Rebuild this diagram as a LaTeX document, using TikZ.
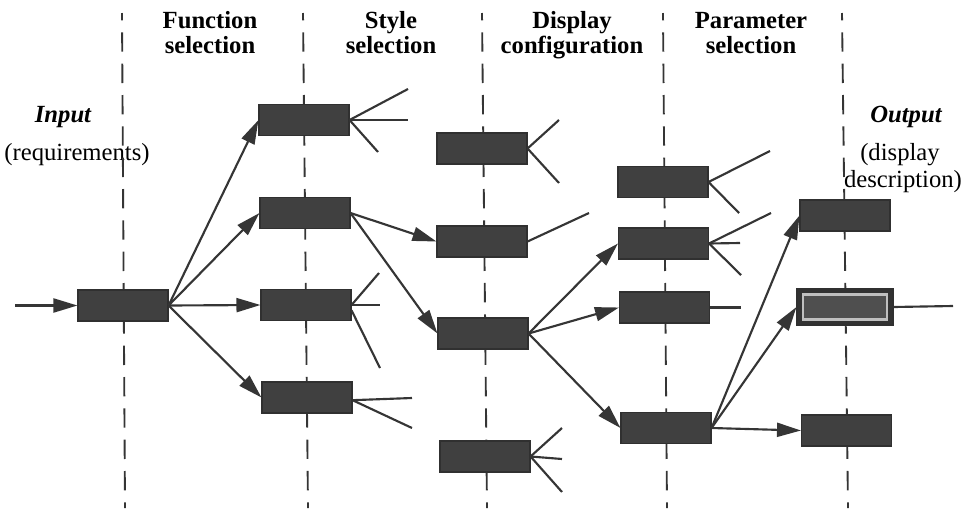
\documentclass[tikz,border=0pt]{standalone}
\usepackage{fontspec}
\setmainfont{Liberation Serif}
\usetikzlibrary{arrows.meta}
\definecolor{ink}{HTML}{353535}
\definecolor{boxfill}{HTML}{404040}
\begin{document}
\begin{tikzpicture}[x=0.75pt,y=-0.75pt,
  stagebox/.style={rectangle, draw=ink!90!black, line width=0.8pt, fill=boxfill,
    minimum width=67.5pt, minimum height=23.25pt, inner sep=0pt},
  divider/.style={draw=ink, line width=1.4pt, dash pattern=on 14.5pt off 9pt, dash phase=9pt},
  link/.style={draw=ink, line width=1.6pt, -{Triangle[length=18pt,width=10.5pt]}},
  stub/.style={draw=ink, line width=1.6pt},
  heading/.style={anchor=base, inner sep=0pt, font=\fontsize{18.5}{19}\selectfont\bfseries},
  label/.style={anchor=base, inner sep=0pt, font=\fontsize{18.5}{19}\selectfont}]
\useasboundingbox (0,0) rectangle (978,508);

% column headings
\node[heading] (h1a) at (210,28) {Function};
\node[heading] (h1b) at (210,53) {selection};
\node[heading] (h2a) at (391,28) {Style};
\node[heading] (h2b) at (391,53) {selection};
\node[heading] (h3a) at (572,28) {Display};
\node[heading] (h3b) at (572,53) {configuration};
\node[heading] (h4a) at (751,28) {Parameter};
\node[heading] (h4b) at (751,53) {selection};

% input and output labels
\node[label, font=\fontsize{18.5}{19}\selectfont\bfseries\itshape] (inl) at (63,122) {Input};
\node[label] (inr) at (77,160) {(requirements)};
\node[label, font=\fontsize{18.5}{19}\selectfont\bfseries\itshape] (outl) at (906,122) {Output};
\node[label] (outa) at (900,160) {(display};
\node[label] (outb) at (903,187) {description)};

% stage dividers
\draw[divider] (122,13) -- (125,508);
\draw[divider] (303,13) -- (308,508);
\draw[divider] (482,13) -- (487,508);
\draw[divider] (663,13) -- (667,508);
\draw[divider] (842,13) -- (848,508);

% stage boxes
\node[stagebox] (A) at (123,305.5) {};
\node[stagebox] (B1) at (304,120) {};
\node[stagebox] (B2) at (305,213) {};
\node[stagebox] (B3) at (306,305) {};
\node[stagebox] (B4) at (307,397.5) {};
\node[stagebox] (C1) at (482,148.5) {};
\node[stagebox] (C2) at (482,241.5) {};
\node[stagebox] (C3) at (483,333.5) {};
\node[stagebox] (C4) at (485,456.5) {};
\node[stagebox] (D1) at (663,182) {};
\node[stagebox] (D2) at (663.5,243.5) {};
\node[stagebox] (D3) at (664.5,307.5) {};
\node[stagebox] (D4) at (666,428) {};
\node[stagebox] (E1) at (845,215.5) {};
\node[stagebox, minimum width=72pt, minimum height=27pt, fill=ink!95!black] (E2) at (845,307) {};
\draw[draw=gray!50, line width=1.6pt, fill=boxfill!92!white]
  ([xshift=5pt,yshift=4.5pt]E2.south west) rectangle ([xshift=-5pt,yshift=-4.5pt]E2.north east);
\node[stagebox] (E3) at (846.5,430.5) {};

% free ends
\coordinate (in) at (15,305.5);
\coordinate (out) at (953,306);
\coordinate (b1a) at (408,89);
\coordinate (b1b) at (408,120);
\coordinate (b1c) at (378,152);
\coordinate (b3a) at (379,273);
\coordinate (b3b) at (380,305);
\coordinate (b3c) at (380,368);
\coordinate (b4a) at (412,398);
\coordinate (b4b) at (412,428);
\coordinate (c1a) at (559,120);
\coordinate (c1b) at (559,183);
\coordinate (c2a) at (589,213);
\coordinate (c4a) at (562,428);
\coordinate (c4b) at (562,459);
\coordinate (c4c) at (562,492);
\coordinate (d1a) at (770,151);
\coordinate (d1b) at (739,213);
\coordinate (d2a) at (771,213);
\coordinate (d2b) at (740,243);
\coordinate (d2c) at (741,275);
\coordinate (d3a) at (741,307.5);

% chosen paths
\draw[link] (in) -- (A.west);
\draw[link] (A.east) -- (B1.west);
\draw[link] (A.east) -- (B2.west);
\draw[link] (A.east) -- (B3.west);
\draw[link] (A.east) -- (B4.west);
\draw[link] (B2.east) -- (C2.west);
\draw[link] (B2.east) -- (C3.west);
\draw[link] (C3.east) -- (D2.west);
\draw[link] (C3.east) -- (D3.west);
\draw[link] (C3.east) -- (D4.west);
\draw[link] (D4.east) -- (E1.west);
\draw[link] (D4.east) -- (E2.west);
\draw[link] (D4.east) -- (E3.west);
\draw[stub] (E2.east) -- (out);

% unexplored branches
\draw[stub] (B1.east) -- (b1a);
\draw[stub] (B1.east) -- (b1b);
\draw[stub] (B1.east) -- (b1c);
\draw[stub] (B3.east) -- (b3a);
\draw[stub] (B3.east) -- (b3b);
\draw[stub] ([yshift=-4pt]B3.east) -- (b3c);
\draw[stub] ([yshift=-2pt]B4.east) -- (b4a);
\draw[stub] ([yshift=-2pt]B4.east) -- (b4b);
\draw[stub] (C1.east) -- (c1a);
\draw[stub] (C1.east) -- (c1b);
\draw[stub] (C2.east) -- (c2a);
\draw[stub] (C4.east) -- (c4a);
\draw[stub] (C4.east) -- (c4b);
\draw[stub] (C4.east) -- (c4c);
\draw[stub] (D1.east) -- (d1a);
\draw[stub] (D1.east) -- (d1b);
\draw[stub] (D2.east) -- (d2a);
\draw[stub] (D2.east) -- (d2b);
\draw[stub] (D2.east) -- (d2c);
\draw[stub] (D3.east) -- (d3a);
\end{tikzpicture}
\end{document}
